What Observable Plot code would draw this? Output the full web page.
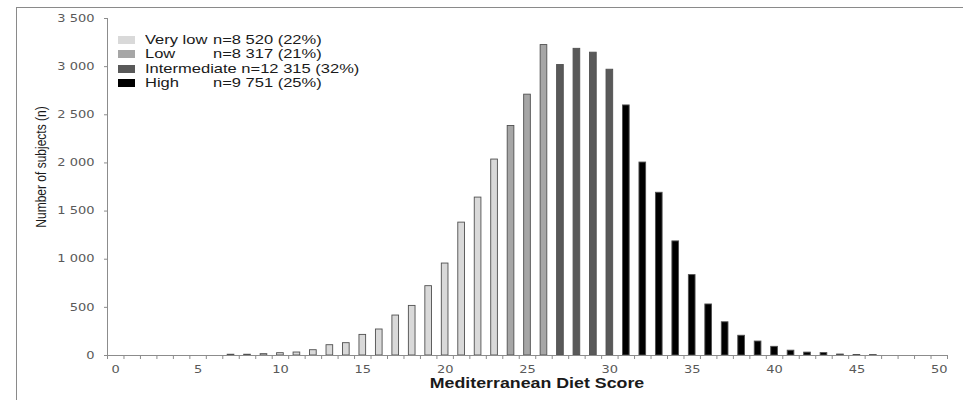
<!DOCTYPE html>
<html>
<head>
<meta charset="utf-8">
<script src="https://cdn.jsdelivr.net/npm/d3@7"></script>
<script src="https://cdn.jsdelivr.net/npm/@observablehq/plot@0.6"></script>
<style>
  body { margin: 0; background: #fff; }
  #wrap { position: relative; width: 963px; height: 400px; overflow: hidden; font-family: "Liberation Sans", Arial, sans-serif; color: #1a1a1a; }
  #frame { position: absolute; left: 16px; top: 7px; width: 960px; height: 420px; border-left: 1px solid #8a8a8a; border-top: 1px solid #8a8a8a; box-sizing: border-box; }
  #chart { position: absolute; left: 0; top: 0; }
  #legend { position: absolute; left: 118px; top: 32px; font-size: 13px; }
  .row { position: absolute; left: 0; height: 15px; white-space: pre; width: 400px; }
  .sw { position: absolute; left: 0; top: 4px; width: 17px; height: 8px; }
  .txt { position: absolute; left: 27px; top: 0; line-height: 15px; transform: scaleX(1.27); transform-origin: left center; }
  .lab { display: inline-block; min-width: 53.5px; }
  #xtitle { position: absolute; left: 337px; width: 400px; top: 375px; text-align: center; font-weight: bold; font-size: 14px; transform: scaleX(1.27); transform-origin: center; }
  #ytitle { position: absolute; left: 40.5px; top: 167px; font-size: 12px; white-space: nowrap; transform: translate(-50%, -50%) rotate(-90deg) scaleY(1.27); }
</style>
</head>
<body>
<div id="wrap">
  <div id="frame"></div>
  <div id="chart"></div>
  <div id="legend"></div>
  <div id="xtitle"></div>
  <div id="ytitle"></div>
</div>
<script>
// ---- Data ----
const scores = d3.range(0, 51);
const counts = [
  0, 0, 0, 0, 0, 0, 0,
  8, 8, 14, 24, 31, 55, 107, 128, 214, 270,
  415, 515, 720, 955, 1380, 1640, 2035,
  2384, 2709, 3224,
  3017, 3185, 3145, 2968,
  2597, 2004, 1690, 1185, 835, 530, 345, 205, 145, 90,
  50, 30, 25, 10, 5, 4,
  0, 0, 0, 0
];
const groupNames = ["Very low", "Low", "Intermediate", "High"];
const groupStart = [0, 24, 27, 31];
const groupCounts = ["n=8 520 (22%)", "n=8 317 (21%)", "n=12 315 (32%)", "n=9 751 (25%)"];
const yTicks = [0, 500, 1000, 1500, 2000, 2500, 3000, 3500];
const xLabelTicks = [0, 5, 10, 15, 20, 25, 30, 35, 40, 45, 50];
const xTitle = "Mediterranean Diet Score";
const yTitle = "Number of subjects (n)";

// ---- Styles ----
const groupFill = ["#d9d9d9", "#a6a6a6", "#595959", "#000000"];

const data = scores.map((s, i) => ({
  score: s,
  n: counts[i],
  group: groupNames[d3.bisectRight(groupStart, s) - 1]
}));

const fmt = d3.formatLocale({decimal: ".", thousands: " ", grouping: [3]}).format(",");
const edgeTicks = d3.range(-0.5, 51, 1);

const chart = Plot.plot({
  width: 963,
  height: 400,
  marginLeft: 107,
  marginRight: 16,
  marginTop: 18,
  marginBottom: 45,
  style: {fontFamily: "DejaVu Sans, Verdana, sans-serif", fontSize: "10px", background: "transparent", color: "#595959"},
  x: {domain: [-0.5, 50.5]},
  y: {domain: [0, 3500]},
  color: {domain: groupNames, range: groupFill},
  marks: [
    Plot.rectY(data.filter(d => d.n > 0), {
      x1: d => d.score - 0.5,
      x2: d => d.score + 0.5,
      y: "n",
      fill: "group",
      stroke: "#505050",
      strokeWidth: 0.9,
      insetLeft: 4.9,
      insetRight: 4.9
    }),
    Plot.ruleY([0], {stroke: "#8c8c8c"}),
    Plot.ruleX([-0.5], {y1: 0, y2: 3500, stroke: "#8c8c8c"}),
    Plot.axisY({ticks: yTicks, tickSize: 3, tickPadding: 10, tickFormat: fmt, stroke: "#8c8c8c", fill: "#595959", label: null}),
    Plot.axisX({ticks: edgeTicks, tickSize: 4, tickFormat: () => "", stroke: "#8c8c8c", label: null}),
    Plot.axisX({ticks: xLabelTicks, tickSize: 0, tickPadding: 10, tickFormat: d => String(d), fill: "#595959", label: null})
  ]
});

// stretch tick labels horizontally like the reference
d3.select(chart).selectAll('g[aria-label$="tick label"] text').each(function () {
  const t = this.getAttribute("transform");
  if (t) {
    this.setAttribute("transform", t + " scale(1.3,1)");
  } else {
    const x = +this.getAttribute("x") || 0, y = +this.getAttribute("y") || 0;
    this.removeAttribute("x");
    this.removeAttribute("y");
    this.setAttribute("transform", `translate(${x},${y}) scale(1.3,1)`);
  }
});

document.getElementById("chart").appendChild(chart);

// legend
const legend = d3.select("#legend");
groupNames.forEach((g, i) => {
  const row = legend.append("div").attr("class", "row").style("top", (i * 14.3) + "px");
  row.append("span").attr("class", "sw").style("background", groupFill[i]);
  const txt = row.append("span").attr("class", "txt");
  txt.append("span").attr("class", "lab").text(g + " ");
  txt.append("span").text(groupCounts[i]);
});

document.getElementById("xtitle").textContent = xTitle;
document.getElementById("ytitle").textContent = yTitle;
</script>
</body>
</html>
